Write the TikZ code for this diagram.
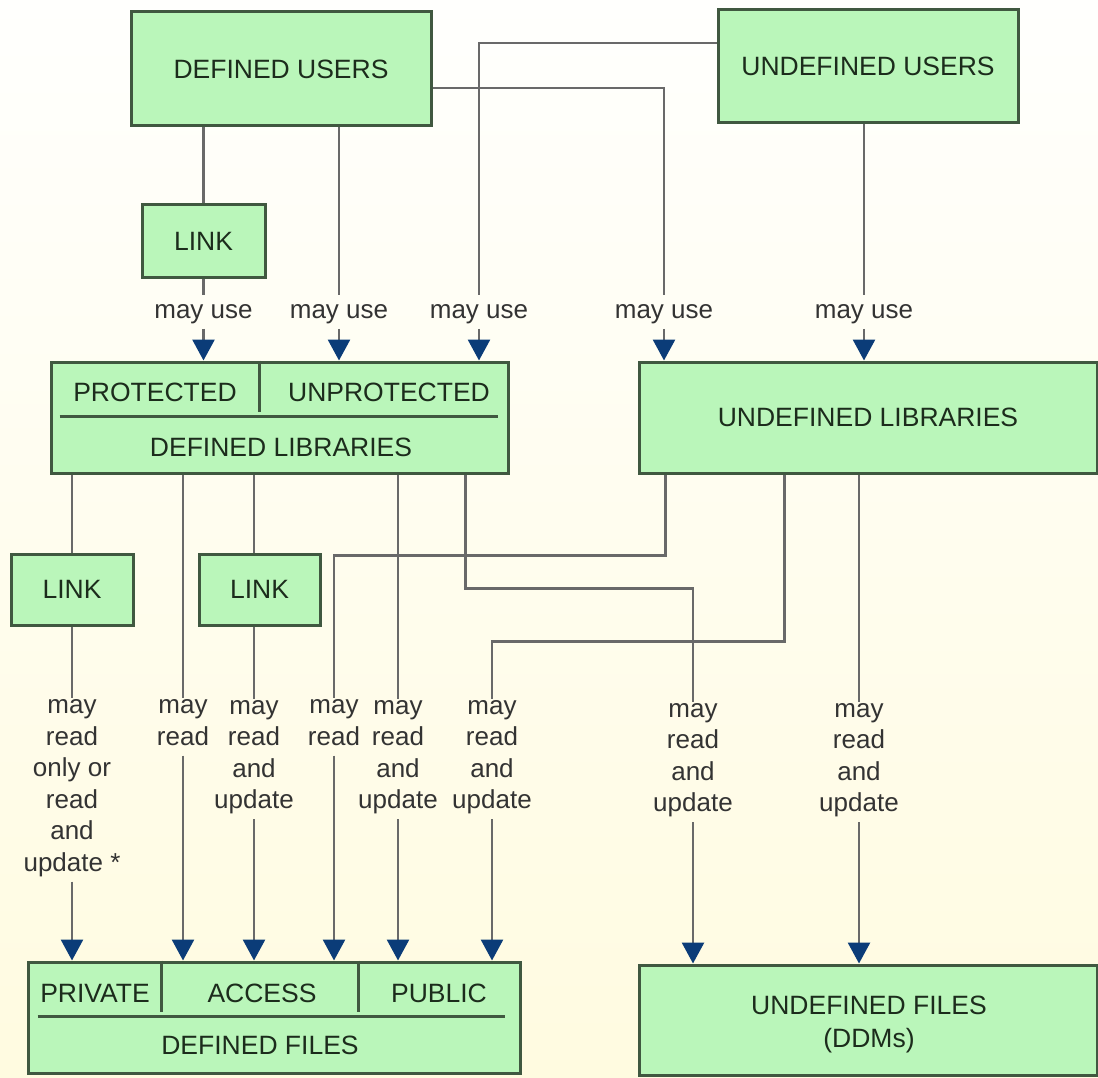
\documentclass[tikz,border=0pt]{standalone}
\usepackage{fontspec}
\setmainfont{Liberation Sans}
\usetikzlibrary{arrows.meta}

\definecolor{boxfill}{HTML}{BAF6BA}
\definecolor{boxline}{HTML}{405840}
\definecolor{boxtext}{HTML}{1C2C1C}
\definecolor{wire}{HTML}{696969}
\definecolor{tipblue}{HTML}{0B3C78}
\definecolor{bgtop}{HTML}{FFFFFD}
\definecolor{bgbot}{HTML}{FFFBE0}

\tikzset{
	box/.style={draw=boxline, line width=3pt, fill=boxfill, inner sep=0pt, text=boxtext},
	boxtxt/.style={inner sep=0pt, text=boxtext, align=center},
	rule/.style={draw=boxline, line width=3pt},
	wire/.style={draw=wire, line width=2.8pt},
	arr/.style={wire, -{Triangle[width=22pt,length=21pt,color=tipblue]}},
	lbl/.style={align=center, inner xsep=0pt, inner ysep=1pt, text=black!80,
		font=\fontsize{26}{31.5}\selectfont,
		execute at begin node=\strut, execute at end node=\strut},
}

\begin{document}
\begin{tikzpicture}[x=1pt, y=-1pt, font=\fontsize{26.5}{31.5}\selectfont]
		{
			\def\usey{312}
			\def\twoy{727}
			\def\foury{759}
			\useasboundingbox (0,0) rectangle (1098,1078);
			\shade[top color=bgtop, bottom color=bgbot] (0,0) rectangle (1098,1078);

			% users
			\node[box, minimum width=300pt, minimum height=114pt] (dusers) at (281,69) {DEFINED USERS};
			\node[box, minimum width=300pt, minimum height=113pt] (uusers) at (868,66.5) {UNDEFINED USERS};
			\node[box, minimum width=123pt, minimum height=72pt] (link1) at (203.5,241) {LINK};

			% libraries
			\node[box, minimum width=457pt, minimum height=111pt] (dlib) at (279.5,417.5) {};
			\draw[rule] ([xshift=210pt]dlib.north west) -- ++(0,51);
			\draw[rule] ([xshift=10pt, yshift=-56pt]dlib.north west) -- ++(438,0);
			\node[boxtxt] (prot) at (155,392) {PROTECTED};
			\node[boxtxt] (unprot) at (389,392) {UNPROTECTED};
			\node[boxtxt] (dlibtxt) at (281,447) {DEFINED LIBRARIES};
			\node[box, minimum width=458pt, minimum height=111pt] (ulib) at (868,417.5) {UNDEFINED LIBRARIES};

			\node[box, minimum width=122pt, minimum height=71pt] (link2) at (72,589.5) {LINK};
			\node[box, minimum width=121pt, minimum height=71pt] (link3) at (259.5,589.5) {LINK};

			% files
			\node[box, minimum width=492pt, minimum height=111pt] (dfiles) at (274,1017.5) {};
			\draw[rule] ([xshift=135pt]dfiles.north west) -- ++(0,51);
			\draw[rule] ([xshift=332pt]dfiles.north west) -- ++(0,51);
			\draw[rule] ([xshift=11pt, yshift=-56pt]dfiles.north west) -- ++(467,0);
			\node[boxtxt] (priv) at (95,993) {PRIVATE};
			\node[boxtxt] (acc) at (262,993) {ACCESS};
			\node[boxtxt] (pub) at (439,993) {PUBLIC};
			\node[boxtxt] (dfilestxt) at (260,1045) {DEFINED FILES};
			\node[box, minimum width=458pt, minimum height=110pt] (ufiles) at (868,1020) {};
			\node[boxtxt, font=\fontsize{26.5}{33}\selectfont] (ufilestxt) at (869,1024) {UNDEFINED FILES\\(DDMs)};

			% labels on the connectors
			\foreach \n/\x in {u1/203.5, u2/339, u3/479, u4/664, u5/864}
				\node[lbl] (\n) at (\x,\usey) {may use};
			\node[lbl] (r1) at (72,790) {may\\read\\only or\\read\\and\\update *};
			\foreach \n/\x/\y/\t in {r2/183/\twoy/{may\\read}, r3/254/\foury/{may\\read\\and\\update},
				r4/334/\twoy/{may\\read}, r5/398/\foury/{may\\read\\and\\update},
				r6/492/\foury/{may\\read\\and\\update}, r7/693/762/{may\\read\\and\\update},
				r8/859/762/{may\\read\\and\\update}}
				\node[lbl] (\n) at (\x,\y) {\t};

			% users to libraries
			\draw[wire] (dusers.south -| link1) -- (link1);
			\draw[wire] (link1) -- (u1);
			\draw[wire] (dusers.south -| u2) -- (u2);
			\draw[wire] ([yshift=23.5pt]uusers.west) -| (u3);
			\draw[wire] ([yshift=-19pt]dusers.east) -| (u4);
			\draw[wire] (uusers.south -| u5) -- (u5);
			\foreach \n/\t in {u1/dlib, u2/dlib, u3/dlib, u4/ulib, u5/ulib}
				\draw[arr] (\n) -- (\n |- \t.north);

			% libraries to files
			\draw[wire] (dlib.south -| link2) -- (link2);
			\draw[wire] (link2) -- (r1);
			\draw[wire] (dlib.south -| r2) -- (r2);
			\draw[wire] (dlib.south -| r3) -- (r3 |- link3.north);
			\draw[wire] (r3 |- link3.south) -- (r3);
			\draw[wire] ([xshift=28pt]ulib.south west) -- ++(0,81) -| (r4);
			\draw[wire] (dlib.south -| r5) -- (r5);
			\draw[wire] ([xshift=147pt]ulib.south west) -- ++(0,167) -| (r6);
			\draw[wire] ([xshift=-44pt]dlib.south east) -- ++(0,114) -| (r7);
			\draw[wire] (ulib.south -| r8) -- (r8);
			\foreach \n/\t in {r1/dfiles, r2/dfiles, r3/dfiles, r4/dfiles, r5/dfiles, r6/dfiles, r7/ufiles, r8/ufiles}
				\draw[arr] (\n) -- (\n |- \t.north);
		}
	\end{tikzpicture}
\end{document}
